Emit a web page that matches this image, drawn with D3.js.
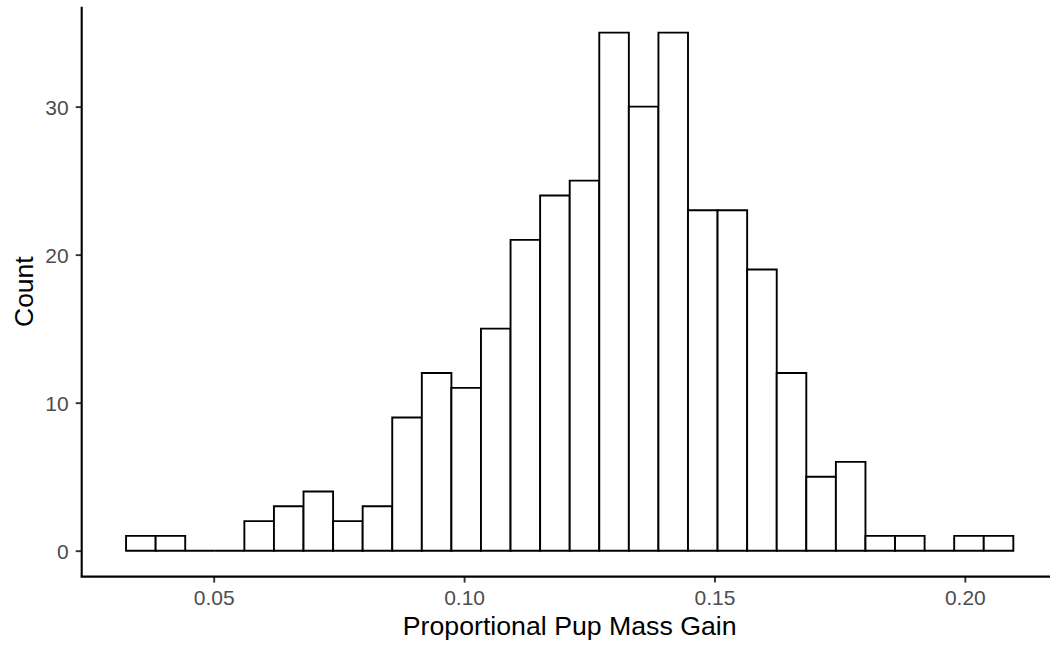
<!DOCTYPE html>
<html>
<head>
<meta charset="utf-8">
<script src="https://cdn.jsdelivr.net/npm/d3@7/dist/d3.min.js"></script>
<style>
  html, body { margin: 0; padding: 0; background: #fff; }
  svg { display: block; }
  text { font-family: "Liberation Sans", Arial, Helvetica, sans-serif; }
</style>
</head>
<body>
<svg id="chart" width="1050" height="647"></svg>
<script>
// ---- Data ----
const binStart = 0.0325;      // left edge of first bin
const binWidth = 0.005906;    // width of each bin
const counts = [1, 1, 0, 0, 2, 3, 4, 2, 3, 9, 12, 11, 15, 21, 24, 25, 35, 30, 35, 23, 23, 19, 12, 5, 6, 1, 1, 0, 1, 1];
const xTicks = [0.05, 0.10, 0.15, 0.20];
const yTicks = [0, 10, 20, 30];
const xLabel = "Proportional Pup Mass Gain";
const yLabel = "Count";

// ---- Layout ----
const panel = { left: 81.7, right: 1057.7, top: 6.7, bottom: 576.6 };

const bins = counts.map((c, i) => ({
  x0: binStart + i * binWidth,
  x1: binStart + (i + 1) * binWidth,
  count: c
}));

const xMin = bins[0].x0, xMax = bins[bins.length - 1].x1;
const xPad = (xMax - xMin) * 0.05;
const yMaxVal = d3.max(counts);
const yPad = yMaxVal * 0.05;

const x = d3.scaleLinear().domain([xMin - xPad, xMax + xPad]).range([panel.left, panel.right]);
const y = d3.scaleLinear().domain([-yPad, yMaxVal + yPad]).range([panel.bottom, panel.top]);

const svg = d3.select("#chart");

// Bars (as closed paths so zero-height bins still show their outline)
svg.append("g")
  .selectAll("path")
  .data(bins)
  .join("path")
  .attr("d", d => {
    const p = d3.path();
    p.moveTo(x(d.x0), y(0));
    p.lineTo(x(d.x0), y(d.count));
    p.lineTo(x(d.x1), y(d.count));
    p.lineTo(x(d.x1), y(0));
    p.closePath();
    return p.toString();
  })
  .attr("fill", "#ffffff")
  .attr("stroke", "#000000")
  .attr("stroke-width", 1.9)
  .attr("stroke-linejoin", "miter");

// X axis
const xAxis = svg.append("g")
  .attr("transform", `translate(0,${panel.bottom})`)
  .call(d3.axisBottom(x).tickValues(xTicks).tickFormat(d3.format(".2f")).tickSize(6).tickPadding(4));
xAxis.select(".domain").remove();
xAxis.selectAll(".tick line").attr("stroke", "#333333").attr("stroke-width", 1.9);
xAxis.selectAll(".tick text")
  .attr("fill", "#4D4D4D")
  .attr("font-size", 21)
  .attr("dy", null)
  .attr("y", 28.4);

// Y axis
const yAxis = svg.append("g")
  .attr("transform", `translate(${panel.left},0)`)
  .call(d3.axisLeft(y).tickValues(yTicks).tickFormat(d3.format("d")).tickSize(6).tickPadding(7));
yAxis.select(".domain").remove();
yAxis.selectAll(".tick line").attr("stroke", "#333333").attr("stroke-width", 1.9);
yAxis.selectAll(".tick text")
  .attr("fill", "#4D4D4D")
  .attr("font-size", 21)
  .attr("dy", "0.36em");

// Axis lines
svg.append("line")
  .attr("x1", panel.left).attr("x2", panel.right)
  .attr("y1", panel.bottom).attr("y2", panel.bottom)
  .attr("stroke", "#000").attr("stroke-width", 2.1).attr("stroke-linecap", "square");
svg.append("line")
  .attr("x1", panel.left).attr("x2", panel.left)
  .attr("y1", panel.top).attr("y2", panel.bottom)
  .attr("stroke", "#000").attr("stroke-width", 2.1).attr("stroke-linecap", "butt");

// Axis titles
svg.append("text")
  .attr("x", (panel.left + panel.right) / 2)
  .attr("y", 635)
  .attr("text-anchor", "middle")
  .attr("font-size", 26.7)
  .attr("fill", "#000")
  .text(xLabel);

svg.append("text")
  .attr("transform", `translate(33,${(panel.top + panel.bottom) / 2}) rotate(-90)`)
  .attr("text-anchor", "middle")
  .attr("font-size", 26.5)
  .attr("fill", "#000")
  .text(yLabel);
</script>
</body>
</html>
